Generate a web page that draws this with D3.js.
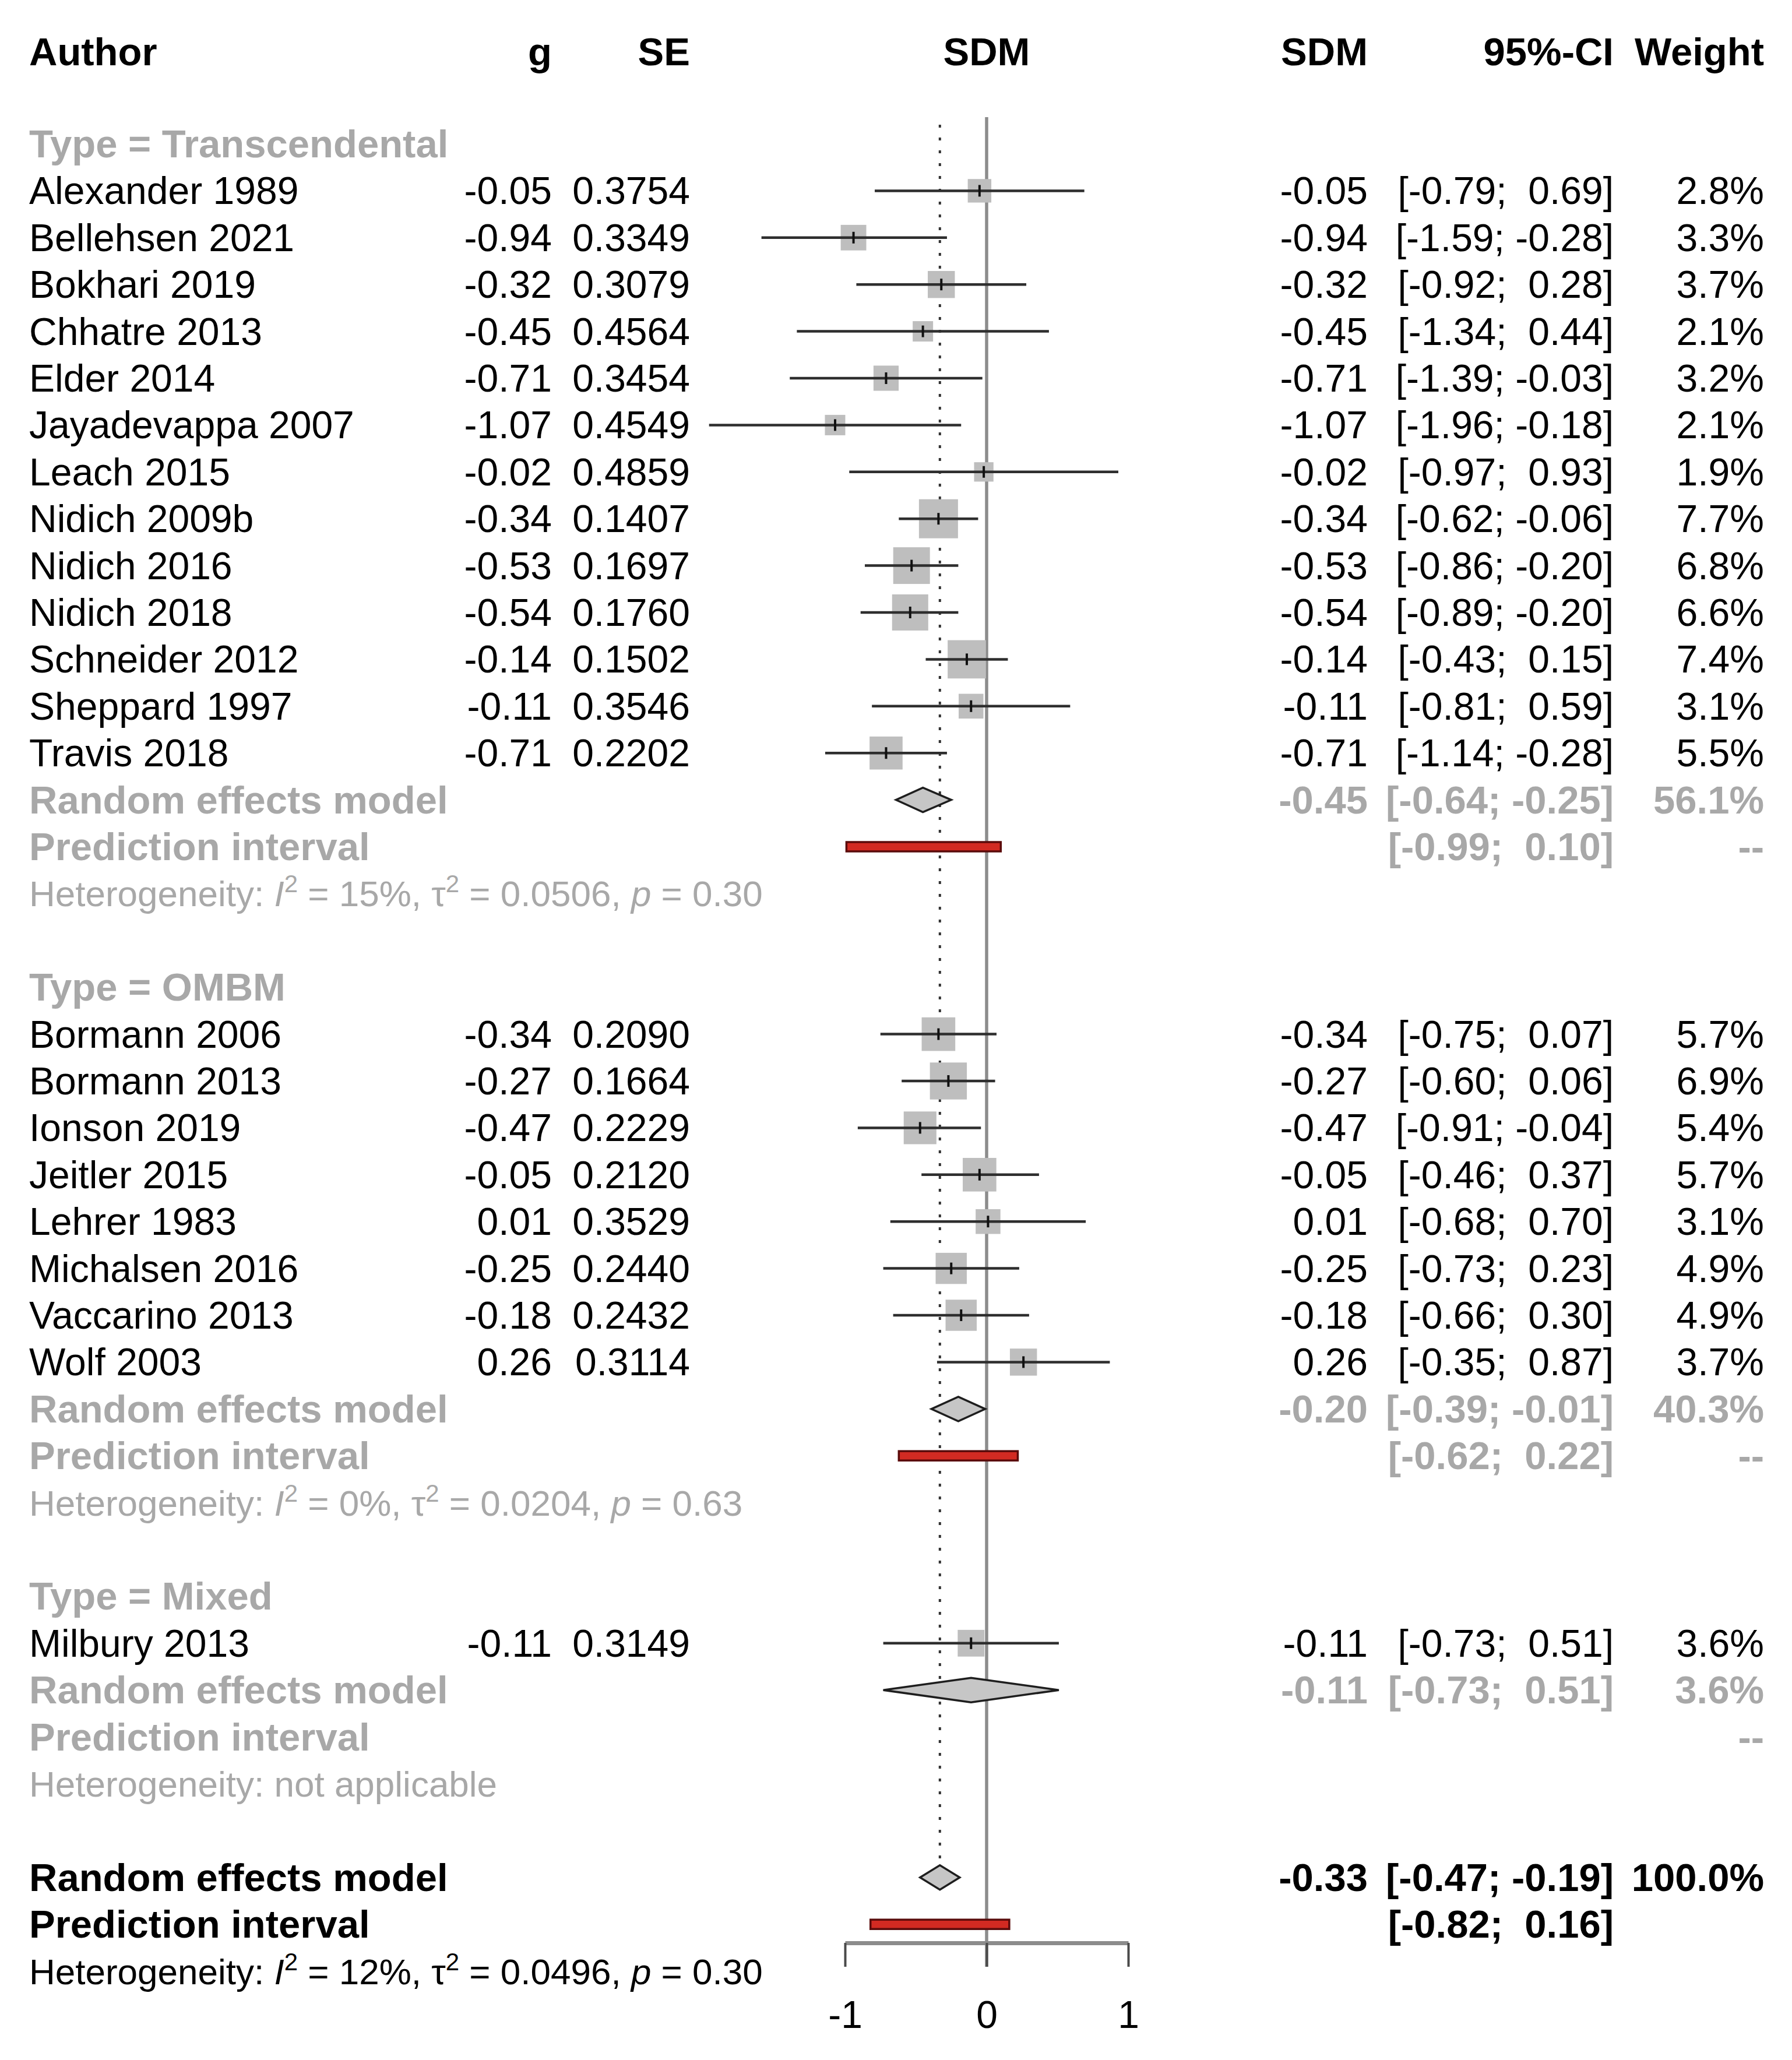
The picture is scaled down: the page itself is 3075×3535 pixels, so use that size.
<!DOCTYPE html>
<html>
<head>
<meta charset="utf-8">
<script src="https://cdn.jsdelivr.net/npm/d3@7"></script>
<style>
body { margin: 0; background: #fff; }
text { font-family: "Liberation Sans", Arial, sans-serif; white-space: pre; }
</style>
</head>
<body>
<div id="chart"></div>
<script>
// study values
var authors = ["Alexander 1989", "Bellehsen 2021", "Bokhari 2019", "Chhatre 2013", "Elder 2014",
	"Jayadevappa 2007", "Leach 2015", "Nidich 2009b", "Nidich 2016", "Nidich 2018", "Schneider 2012",
	"Sheppard 1997", "Travis 2018",
	"Bormann 2006", "Bormann 2013", "Ionson 2019", "Jeitler 2015", "Lehrer 1983", "Michalsen 2016",
	"Vaccarino 2013", "Wolf 2003",
	"Milbury 2013"];
var groupOf = [0,0,0,0,0,0,0,0,0,0,0,0,0, 1,1,1,1,1,1,1,1, 2];
var g = [-0.05, -0.94, -0.32, -0.45, -0.71, -1.07, -0.02, -0.34, -0.53, -0.54, -0.14, -0.11, -0.71,
	-0.34, -0.27, -0.47, -0.05, 0.01, -0.25, -0.18, 0.26,
	-0.11];
var se = [0.3754, 0.3349, 0.3079, 0.4564, 0.3454, 0.4549, 0.4859, 0.1407, 0.1697, 0.1760, 0.1502, 0.3546, 0.2202,
	0.2090, 0.1664, 0.2229, 0.2120, 0.3529, 0.2440, 0.2432, 0.3114,
	0.3149];
var ciLow = [-0.79, -1.59, -0.92, -1.34, -1.39, -1.96, -0.97, -0.62, -0.86, -0.89, -0.43, -0.81, -1.14,
	-0.75, -0.60, -0.91, -0.46, -0.68, -0.73, -0.66, -0.35,
	-0.73];
var ciHigh = [0.69, -0.28, 0.28, 0.44, -0.03, -0.18, 0.93, -0.06, -0.20, -0.20, 0.15, 0.59, -0.28,
	0.07, 0.06, -0.04, 0.37, 0.70, 0.23, 0.30, 0.87,
	0.51];
var weight = [2.8, 3.3, 3.7, 2.1, 3.2, 2.1, 1.9, 7.7, 6.8, 6.6, 7.4, 3.1, 5.5,
	5.7, 6.9, 5.4, 5.7, 3.1, 4.9, 4.9, 3.7,
	3.6];

// subgroup values
var groupNames = ["Transcendental", "OMBM", "Mixed"];
var groupEst = [-0.45, -0.20, -0.11];
var groupLow = [-0.64, -0.39, -0.73];
var groupHigh = [-0.25, -0.01, 0.51];
var groupWeight = [56.1, 40.3, 3.6];
var groupPiLow = [-0.99, -0.62, null];
var groupPiHigh = [0.10, 0.22, null];
var groupI2 = ["15%", "0%", null];
var groupTau2 = ["0.0506", "0.0204", null];
var groupP = ["0.30", "0.63", null];

// overall values
var overallEst = -0.33, overallLow = -0.47, overallHigh = -0.19, overallWeight = 100.0;
var overallPi = [-0.82, 0.16];
var overallHet = ["12%", "0.0496", "0.30"];

var xTicks = [-1, 0, 1];

var W = 3075, H = 3535;
var gray = "#a8a8a8";
var fs = 66, fsBold = 67, fsHet = 62;

var loc = d3.formatLocale({decimal: ".", thousands: ",", grouping: [3], currency: ["", ""], minus: "-"});
var f2 = loc.format(".2f"), f4 = loc.format(".4f"), f1 = loc.format(".1f");
function pad(v){ return (v < 0 ? "" : " ") + f2(v); }
function ciTxt(lo, hi){ return "[" + pad(lo) + "; " + pad(hi) + "]"; }

var x = d3.scaleLinear().domain([-1, 1]).range([1450, 1936]);
var y = d3.scaleLinear().domain([0, 39]).range([247, 247 + 39 * 80.4]);
var boxSize = d3.scaleSqrt().domain([0, 7.7]).range([0, 67]);

var col = {author: 50, g: 947, se: 1184, sdm: 2347, ci: 2769, w: 3027};

var svg = d3.select("#chart").append("svg")
	.attr("width", W)
	.attr("height", H);
svg.append("rect").attr("width", W).attr("height", H).attr("fill", "#fff");

// header
var head = svg.append("g").attr("font-weight", "bold").attr("font-size", fsBold);
head.append("text").attr("x", col.author).attr("y", 112).text("Author");
head.append("text").attr("x", col.g).attr("y", 112).attr("text-anchor", "end").text("g");
head.append("text").attr("x", col.se).attr("y", 112).attr("text-anchor", "end").text("SE");
head.append("text").attr("x", x(0)).attr("y", 112).attr("text-anchor", "middle").text("SDM");
head.append("text").attr("x", col.sdm).attr("y", 112).attr("text-anchor", "end").text("SDM");
head.append("text").attr("x", col.ci).attr("y", 112).attr("text-anchor", "end").text("95%-CI");
head.append("text").attr("x", col.w).attr("y", 112).attr("text-anchor", "end").text("Weight");

// reference lines
svg.append("line")
	.attr("x1", x(0)).attr("x2", x(0))
	.attr("y1", 201).attr("y2", 3375)
	.attr("stroke", "#8c8c8c").attr("stroke-width", 5.5);
svg.append("line")
	.attr("x1", x(overallEst)).attr("x2", x(overallEst))
	.attr("y1", 214).attr("y2", y(37) - 21)
	.attr("stroke", "#333").attr("stroke-width", 4)
	.attr("stroke-dasharray", "5,17");

var txt = svg.append("g").attr("font-size", fs);
var marks = svg.append("g");

function put(row, xpos, anchor, s, color, bold){
	return txt.append("text")
		.attr("x", xpos)
		.attr("y", y(row) + 23)
		.attr("text-anchor", anchor)
		.attr("fill", color)
		.attr("font-weight", bold ? "bold" : null)
		.attr("font-size", bold ? fsBold : null)
		.text(s);
}

function hetText(row, color, i2, tau2, p){
	var t = txt.append("text")
		.attr("x", col.author)
		.attr("y", y(row) + 22)
		.attr("font-size", fsHet)
		.attr("fill", color);
	t.append("tspan").text("Heterogeneity: ");
	if (i2 == null) { t.append("tspan").text("not applicable"); return; }
	t.append("tspan").attr("font-style", "italic").text("I");
	t.append("tspan").attr("font-size", 42).attr("dy", -24).text("2");
	t.append("tspan").attr("dy", 24).text(" = " + i2 + ", \u03c4");
	t.append("tspan").attr("font-size", 42).attr("dy", -24).text("2");
	t.append("tspan").attr("dy", 24).text(" = " + tau2 + ", ");
	t.append("tspan").attr("font-style", "italic").text("p");
	t.append("tspan").text(" = " + p);
}

function diamond(row, est, lo, hi){
	var yy = y(row), h = 21;
	marks.append("path")
		.attr("d", "M" + x(lo) + "," + yy + "L" + x(est) + "," + (yy - h) + "L" + x(hi) + "," + yy + "L" + x(est) + "," + (yy + h) + "Z")
		.attr("fill", "#c6c6c6").attr("stroke", "#1e1e1e").attr("stroke-width", 3.5);
}

function predBar(row, lo, hi){
	marks.append("rect")
		.attr("x", x(lo)).attr("width", x(hi) - x(lo))
		.attr("y", y(row) - 8).attr("height", 16)
		.attr("fill", "#d22a22").attr("stroke", "#5a0b0b").attr("stroke-width", 3.5);
}

var row = 0;
groupNames.forEach(function(name, gi){
	put(row, col.author, "start", "Type = " + name, gray, true);
	row++;
	authors.forEach(function(a, i){
		if (groupOf[i] !== gi) return;
		put(row, col.author, "start", a, "#000");
		put(row, col.g, "end", f2(g[i]), "#000");
		put(row, col.se, "end", f4(se[i]), "#000");
		put(row, col.sdm, "end", f2(g[i]), "#000");
		put(row, col.ci, "end", ciTxt(ciLow[i], ciHigh[i]), "#000");
		put(row, col.w, "end", f1(weight[i]) + "%", "#000");
		var yy = y(row), s = boxSize(weight[i]);
		marks.append("rect")
			.attr("x", x(g[i]) - s / 2).attr("y", yy - s / 2)
			.attr("width", s).attr("height", s)
			.attr("fill", "#bebebe");
		marks.append("line")
			.attr("x1", x(ciLow[i])).attr("x2", x(ciHigh[i]))
			.attr("y1", yy).attr("y2", yy)
			.attr("stroke", "#2e2e2e").attr("stroke-width", 4.5);
		marks.append("line")
			.attr("x1", x(g[i])).attr("x2", x(g[i]))
			.attr("y1", yy - 10).attr("y2", yy + 10)
			.attr("stroke", "#111").attr("stroke-width", 4);
		row++;
	});
	// subgroup summary
	put(row, col.author, "start", "Random effects model", gray, true);
	put(row, col.sdm, "end", f2(groupEst[gi]), gray, true);
	put(row, col.ci, "end", ciTxt(groupLow[gi], groupHigh[gi]), gray, true);
	put(row, col.w, "end", f1(groupWeight[gi]) + "%", gray, true);
	diamond(row, groupEst[gi], groupLow[gi], groupHigh[gi]);
	row++;
	put(row, col.author, "start", "Prediction interval", gray, true);
	if (groupPiLow[gi] != null) {
		put(row, col.ci, "end", ciTxt(groupPiLow[gi], groupPiHigh[gi]), gray, true);
		predBar(row, groupPiLow[gi], groupPiHigh[gi]);
	}
	put(row, col.w, "end", "--", gray, true);
	row++;
	hetText(row, gray, groupI2[gi], groupTau2[gi], groupP[gi]);
	row += 2;
});

// overall
put(row, col.author, "start", "Random effects model", "#000", true);
put(row, col.sdm, "end", f2(overallEst), "#000", true);
put(row, col.ci, "end", ciTxt(overallLow, overallHigh), "#000", true);
put(row, col.w, "end", f1(overallWeight) + "%", "#000", true);
diamond(row, overallEst, overallLow, overallHigh);
row++;
put(row, col.author, "start", "Prediction interval", "#000", true);
put(row, col.ci, "end", ciTxt(overallPi[0], overallPi[1]), "#000", true);
predBar(row, overallPi[0], overallPi[1]);
row++;
hetText(row, "#000", overallHet[0], overallHet[1], overallHet[2]);

// x axis
var axis = svg.append("g")
	.attr("transform", "translate(0,3334)")
	.call(d3.axisBottom(x).tickValues(xTicks).tickSize(41).tickSizeOuter(0).tickFormat(loc.format("d")));
axis.attr("font-family", null).attr("font-size", fs);
axis.select(".domain").attr("stroke", "#8c8c8c").attr("stroke-width", 7);
axis.selectAll(".tick line").attr("stroke", "#4a4a4a").attr("stroke-width", 4);
axis.selectAll(".tick text").attr("y", 146).attr("dy", 0).attr("fill", "#000");
</script>
</body>
</html>
